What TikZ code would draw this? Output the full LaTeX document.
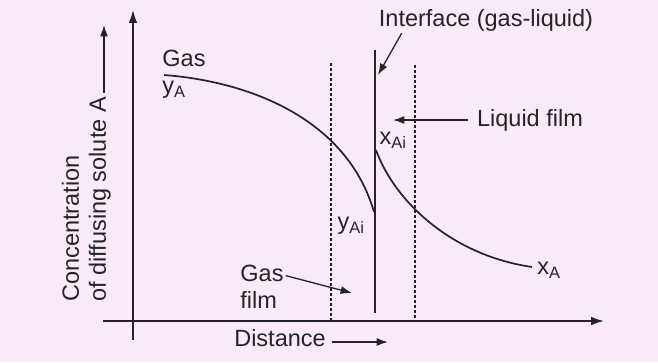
\documentclass[tikz,border=0pt]{standalone}
\usepackage{fontspec}
\setmainfont{Liberation Sans}
\usepackage{tikz}
\usepackage{xcolor}
\usetikzlibrary{arrows.meta,positioning,calc}
\definecolor{Paper}{HTML}{F8EBF7}
\definecolor{Ink}{HTML}{242424}

\begin{document}
\begin{tikzpicture}[
  x=1pt,y=-1pt,
  lbl/.style={inner sep=0pt,text=Ink,font=\fontsize{23.5}{27}\selectfont},
  axis/.style={-{Latex[length=4.5mm,width=3mm]},line width=1.6pt,draw=Ink},
  arrow/.style={-{Latex[length=4mm,width=2.8mm]},line width=1.3pt,draw=Ink},
  curve/.style={line width=1.7pt,draw=Ink},
  film/.style={densely dashed,line width=1.2pt,draw=Ink}
]
\fill[Paper] (0,0) rectangle (658,362);
\useasboundingbox (0,0) rectangle (658,362);
% axes
\coordinate (ybot) at (133,340);
\coordinate (ytop) at (133,10);
\coordinate (xleft) at (103,321);
\coordinate (xright) at (604,321);
\draw[axis] (ybot) -- (ytop);
\draw[axis] (xleft) -- (xright);
% film boundaries and interface
\coordinate (gtop) at (331,63);
\coordinate (gbot) at (331,321);
\coordinate (ltop) at (415,65);
\coordinate (lbot) at (415,321);
\coordinate (itop) at (375,50);
\coordinate (ibot) at (375,313);
\draw[film] (gtop) -- (gbot);
\draw[film] (ltop) -- (lbot);
\draw[curve] (itop) -- (ibot);
% concentration profiles
\coordinate (gstart) at (164,75);
\coordinate (gend) at (374,212);
\coordinate (lstart) at (376,150);
\coordinate (lend) at (532,267);
\draw[curve] (gstart) .. controls (255,82) and (348,122) .. (gend);
\draw[curve] (lstart) .. controls (394,200) and (450,255) .. (lend);
% labels
\node[lbl] (gaslbl) at (184,58) {Gas};
\node[lbl] (ya) at (174,90) {y\textsubscript{A}};
\node[lbl] (xai) at (393,140) {x\textsubscript{Ai}};
\node[lbl] (yai) at (351,226) {y\textsubscript{Ai}};
\node[lbl] (xa) at (549,270) {x\textsubscript{A}};
\node[lbl] (ifacelbl) at (486,20) {Interface (gas-liquid)};
\node[lbl] (liqlbl) at (530,120) {Liquid film};
\node[lbl,align=left] (gasfilm) at (262,287) {Gas\\film};
\node[lbl] (dist) at (280,338) {Distance};
\node[lbl,align=left,rotate=90,anchor=south west] (conc) at (111,302) {Concentration\\of diffusing solute A};
% pointers
\coordinate (concup) at (104,25);
\coordinate (ifend) at (378,75);
\coordinate (liqend) at (393,120);
\coordinate (gfend) at (352,293);
\coordinate (distend) at (388,342);
\draw[arrow,shorten <=4pt] (conc.south east -| concup) -- (concup);
\draw[arrow] ([xshift=23pt,yshift=-2pt]ifacelbl.south west) -- (ifend);
\draw[arrow,shorten <=9pt] (liqlbl.west) -- (liqend);
\draw[arrow,shorten <=2pt] ([yshift=-10pt]gasfilm.north east) -- (gfend);
\draw[arrow,shorten <=6pt] ([yshift=-4pt]dist.east) -- (distend);
\end{tikzpicture}
\end{document}
